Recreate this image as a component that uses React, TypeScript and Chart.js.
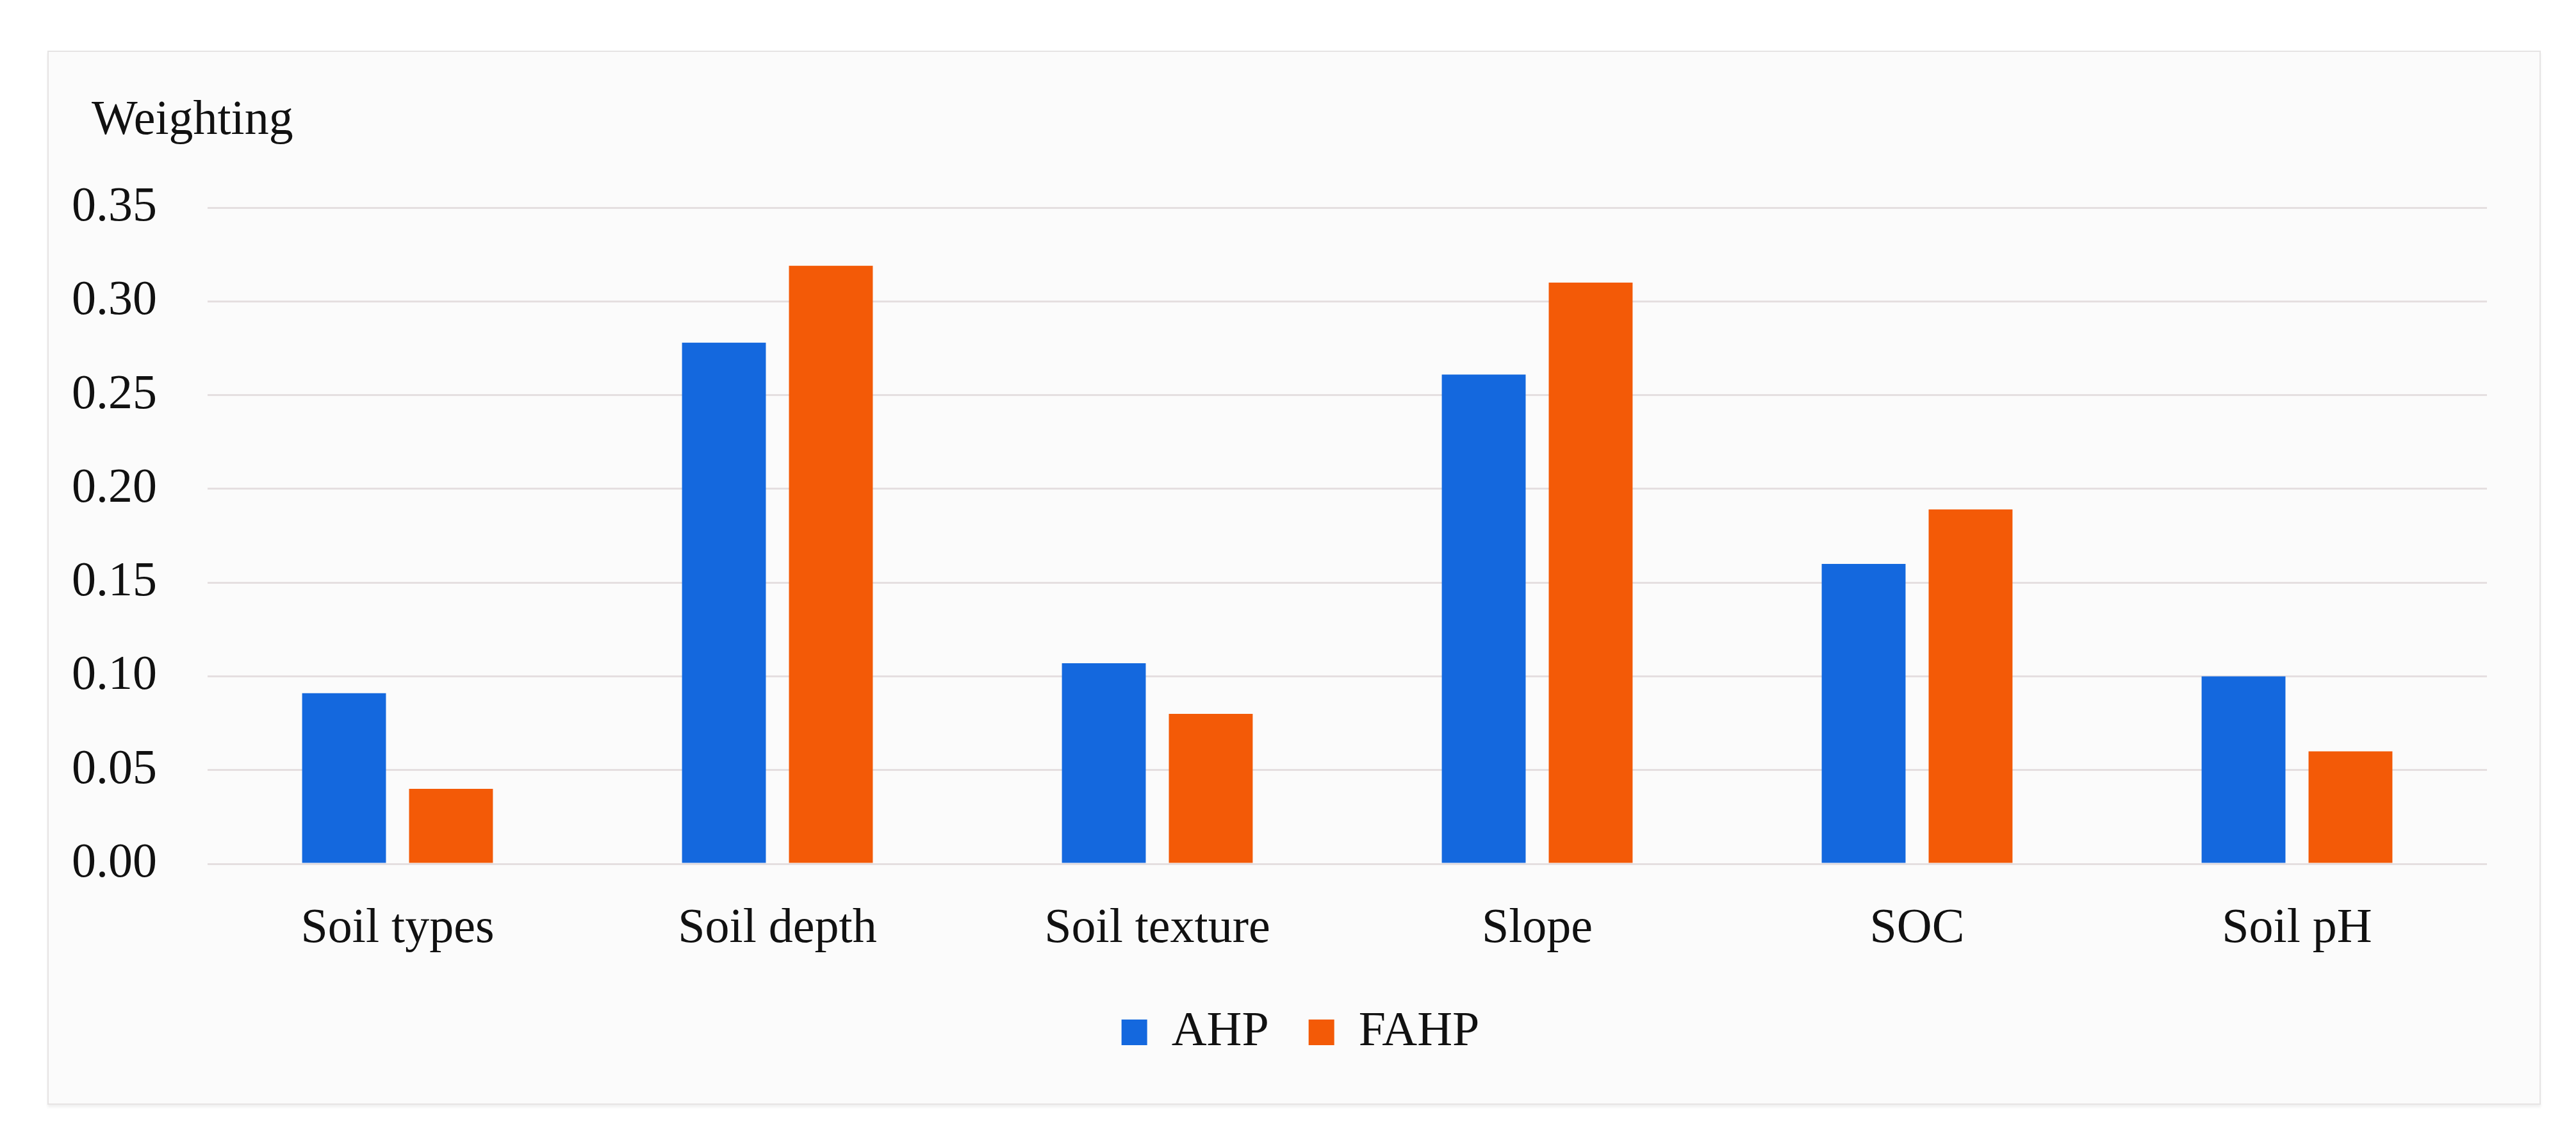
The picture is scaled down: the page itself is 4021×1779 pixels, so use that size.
import React, { useEffect, useRef } from "react";
import { Chart, registerables } from "chart.js";

Chart.register(...registerables);

const categories = ["Soil types", "Soil depth", "Soil texture", "Slope", "SOC", "Soil pH"];
const ahpValues = [0.091, 0.278, 0.107, 0.261, 0.16, 0.1];
const fahpValues = [0.04, 0.319, 0.08, 0.31, 0.189, 0.06];
const seriesNames = ["AHP", "FAHP"];
const yTicks = [0, 0.05, 0.1, 0.15, 0.2, 0.25, 0.3, 0.35];
const axisTitle = "Weighting";

const FONT = "'Liberation Serif', 'DejaVu Serif', serif";
const CANVAS_W = 3888;
const CANVAS_H = 1641;

const topAxisTitle = {
  id: "topAxisTitle",
  afterDraw(chart: any) {
    const ctx = chart.ctx;
    ctx.save();
    ctx.font = `normal 76px ${FONT}`;
    ctx.fillStyle = "#111111";
    ctx.textAlign = "left";
    ctx.textBaseline = "alphabetic";
    ctx.fillText(axisTitle, 67, 128);
    ctx.restore();
  },
};

export default function App() {
  const ref = useRef<HTMLCanvasElement | null>(null);

  useEffect(() => {
    if (!ref.current) return;
    const chart = new Chart(ref.current, {
      type: "bar",
      data: {
        labels: categories,
        datasets: [
          {
            label: seriesNames[0],
            data: ahpValues,
            backgroundColor: "#1468DE",
            borderWidth: 0,
            categoryPercentage: 0.563,
            barPercentage: 0.784,
          },
          {
            label: seriesNames[1],
            data: fahpValues,
            backgroundColor: "#F35A07",
            borderWidth: 0,
            categoryPercentage: 0.563,
            barPercentage: 0.784,
          },
        ],
      },
      options: {
        animation: false,
        responsive: false,
        maintainAspectRatio: false,
        devicePixelRatio: 1,
        layout: { padding: { left: 20, right: 0, top: 243, bottom: 63 } },
        plugins: {
          tooltip: { enabled: false },
          title: { display: false },
          legend: {
            display: true,
            position: "bottom",
            labels: {
              boxWidth: 40,
              boxHeight: 40,
              padding: 62,
              color: "#111111",
              font: { family: FONT, size: 76, lineHeight: 1.2 },
            },
          },
        },
        scales: {
          x: {
            grid: { display: false, drawTicks: false },
            border: { display: false },
            ticks: {
              color: "#111111",
              padding: 56,
              maxRotation: 0,
              font: { family: FONT, size: 76, lineHeight: 1.2 },
            },
            afterFit: (scale: any) => {
              scale.height = 163;
            },
          },
          y: {
            min: 0,
            max: 0.35,
            grid: { color: "#E5DFE0", lineWidth: 3, drawTicks: false },
            border: { display: false },
            afterBuildTicks: (scale: any) => {
              scale.ticks = yTicks.map((v) => ({ value: v }));
            },
            ticks: {
              color: "#111111",
              padding: 79,
              font: { family: FONT, size: 76, lineHeight: 1.2 },
              callback: (v: any) => Number(v).toFixed(2),
            },
            afterFit: (scale: any) => {
              scale.width = 228;
            },
          },
          yRightSpace: {
            type: "linear",
            position: "right",
            display: true,
            grid: { display: false, drawTicks: false },
            border: { display: false },
            ticks: { display: false },
            afterFit: (scale: any) => {
              scale.width = 82;
            },
          },
        },
      },
      plugins: [topAxisTitle],
    });
    return () => chart.destroy();
  }, []);

  return (
    <div style={{ position: "absolute", left: 0, top: 0, width: 4021, height: 1779, background: "#ffffff" }}>
      <div
        style={{
          position: "absolute",
          left: 74,
          top: 79,
          width: 3892,
          height: 1645,
          boxSizing: "border-box",
          border: "2px solid #E6E4E4",
          background: "#FBFBFB",
          boxShadow: "0 4px 4px rgba(0,0,0,0.06)",
        }}
      >
        <canvas
          ref={ref}
          width={CANVAS_W}
          height={CANVAS_H}
          style={{ position: "absolute", left: 0, top: 0, width: CANVAS_W, height: CANVAS_H }}
        />
      </div>
    </div>
  );
}
